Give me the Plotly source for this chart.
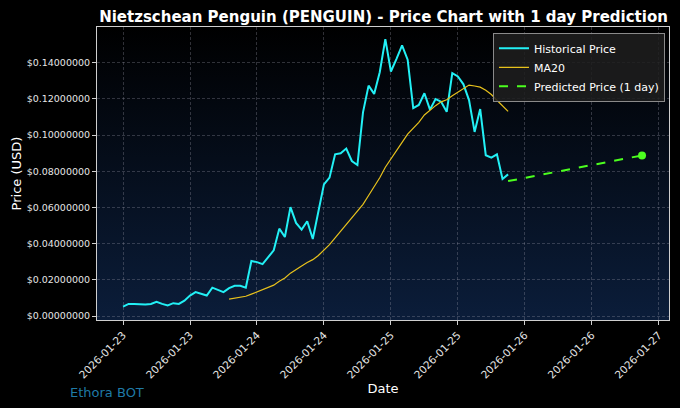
import base64
import pandas as pd
import plotly.graph_objects as go

# hourly prices, starting 2026-01-23 00:00
start = "2026-01-23 00:00"
prices = [
    0.0052, 0.0067, 0.0067, 0.0065, 0.0064, 0.0067, 0.0079, 0.0067, 0.0059, 0.0071,
    0.0067, 0.0085, 0.0113, 0.0132, 0.0122, 0.0113, 0.0157, 0.0144, 0.0132, 0.0154,
    0.0167, 0.0167, 0.0157, 0.0304, 0.0298, 0.0287, 0.0324, 0.0363, 0.0483, 0.0437,
    0.0602, 0.0515, 0.0478, 0.0524, 0.0426, 0.0579, 0.0728, 0.0765, 0.0894, 0.0900,
    0.0926, 0.0857, 0.0835, 0.1126, 0.1274, 0.1228, 0.1348, 0.1531, 0.1352, 0.1422,
    0.1497, 0.1417, 0.1150, 0.1167, 0.1232, 0.1141, 0.1200, 0.1185, 0.1129, 0.1343,
    0.1325, 0.1281, 0.1194, 0.1018, 0.1144, 0.0889, 0.0876, 0.0894, 0.0758, 0.0783,
]
pred_dates = ["2026-01-25 21:00", "2026-01-26 21:00"]
pred_values = [0.0746, 0.0888]

title = "Nietzschean Penguin (PENGUIN) - Price Chart with 1 day Prediction"

df = pd.DataFrame({"date": pd.date_range(start, periods=len(prices), freq="h"), "price": prices})
df["ma20"] = df["price"].rolling(20).mean()

# dark vertical gradient for the plot area, as an svg background image
svg = (
    '<svg xmlns="http://www.w3.org/2000/svg" width="10" height="100" preserveAspectRatio="none">'
    '<defs><linearGradient id="g" x1="0" y1="0" x2="0" y2="1">'
    '<stop offset="0" stop-color="#000000"/><stop offset="1" stop-color="#0b1d3a"/>'
    '</linearGradient></defs><rect width="10" height="100" fill="url(#g)"/></svg>'
)
bg = "data:image/svg+xml;base64," + base64.b64encode(svg.encode()).decode()

fig = go.Figure()
fig.add_trace(go.Scatter(x=df["date"], y=df["price"], mode="lines", name="Historical Price",
                         line=dict(color="#22f0f5", width=2)))
fig.add_trace(go.Scatter(x=df["date"], y=df["ma20"], mode="lines", name="MA20",
                         line=dict(color="#e8c21c", width=1.2)))
fig.add_trace(go.Scatter(x=pred_dates, y=pred_values, mode="lines", name="Predicted Price (1 day)",
                         line=dict(color="#4cff1f", width=2, dash="dash")))
fig.add_trace(go.Scatter(x=pred_dates[-1:], y=pred_values[-1:], mode="markers", showlegend=False,
                         marker=dict(color="#4cff1f", size=8)))

axis_common = dict(
    showgrid=True, gridcolor="rgba(150,150,165,0.32)", griddash="3px,2px", gridwidth=0.6,
    showline=True, linecolor="#cfcfcf", linewidth=1, mirror=True,
    ticks="outside", ticklen=4, tickcolor="#cfcfcf",
    zeroline=False, automargin=False,
)

fig.update_layout(
    width=680, height=408,
    paper_bgcolor="#000000", plot_bgcolor="rgba(0,0,0,0)",
    margin=dict(l=97, r=11, t=27, b=88),
    title=dict(text="<b>" + title + "</b>", x=0.564, xanchor="center", y=0.958, yanchor="middle",
               font=dict(family="DejaVu Sans", size=15, color="white")),
    xaxis=dict(axis_common, range=["2026-01-22 19:20", "2026-01-27 01:50"],
               tick0="2026-01-23", dtick=12 * 3600 * 1000, tickformat="%Y-%m-%d", tickangle=-45,
               tickfont=dict(family="DejaVu Sans", size=10.5, color="#e6e6e6"),
               title=dict(text="Date", font=dict(family="DejaVu Sans", size=13, color="white"), standoff=4)),
    yaxis=dict(axis_common, range=[-0.0022, 0.1598], dtick=0.02, tickformat="$.8f",
               tickfont=dict(family="DejaVu Sans", size=9.5, color="#e6e6e6"),
               title=dict(text="Price (USD)", font=dict(family="DejaVu Sans", size=13, color="white"), standoff=2)),
    legend=dict(x=0.993, xanchor="right", y=0.98, yanchor="top", bgcolor="rgba(30,30,30,0.85)",
                bordercolor="#8a8a8a", borderwidth=1,
                font=dict(family="DejaVu Sans", size=11, color="white"), tracegroupgap=0),
    images=[dict(source=bg, xref="paper", yref="paper", x=0, y=1, sizex=1, sizey=1,
                 sizing="stretch", layer="below", xanchor="left", yanchor="top")],
    annotations=[dict(text="Ethora BOT", xref="paper", yref="paper", x=-0.051, y=-0.246,
                      xanchor="left", yanchor="middle", showarrow=False,
                      font=dict(family="DejaVu Sans", size=13, color="#1f7aa6"))],
    showlegend=True,
)

# drop the default page margin so the figure sits at the window's corner
fig.write_html("out.html", config={"displayModeBar": False},
               post_script="document.body.style.margin='0';")
